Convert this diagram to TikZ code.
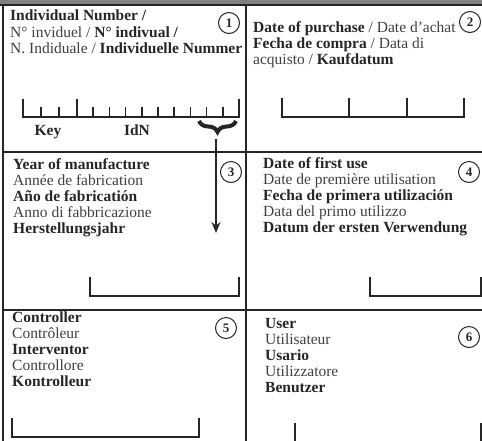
\documentclass[tikz,border=0pt]{standalone}
\usepackage{fontspec}
\setmainfont{Liberation Serif}
\usetikzlibrary{arrows.meta,decorations.pathreplacing}
\def\linesep{16}
\def\bt#1{{\bfseries\color{black!85}#1}}

\begin{document}
\begin{tikzpicture}[x=1pt,y=-1pt,every node/.append style={inner sep=0pt}]
    \tikzstyle{frame}=[draw=black!85,line width=2.6pt]
    \tikzstyle{field}=[draw=black!85,line width=2.2pt]
    \tikzstyle{tick}=[draw=black!85,line width=1.6pt]
    \tikzstyle{entry}=[anchor=base west,font=\fontsize{15.5}{16}\selectfont,text=black!75]
    \tikzstyle{label}=[anchor=base,font=\bfseries\fontsize{15.5}{16}\selectfont,text=black!85]
    \tikzstyle{number}=[circle,draw=black!85,line width=1pt,minimum size=21pt,font=\bfseries\fontsize{13}{13}\selectfont,text=black!85]

    \useasboundingbox (0,0) rectangle (482,440);

    % Draw the frame
    \fill[black!50] (0,0) rectangle (482,4);
    \draw[frame] (0,5) -- (482,5);
    \draw[frame] (3,5) -- (3,441);
    \draw[frame] (246,5) -- (246,441);
    \draw[frame] (3,152) -- (482,152);
    \draw[frame] (3,310) -- (482,310);

    % Draw the numbers of the fields
    \foreach \name / \x / \y in {1/229/23, 2/470/22, 3/231/172, 4/469/172, 5/226/328, 6/469/337}
        \node[number] (N-\name) at (\x,\y) {\name};

    % Field 1
    \node[entry] (T1-1) at (10,20) {\bt{Individual Number /}};
    \node[entry] (T1-2) at (10,37) {N° inviduel / \bt{N° indivual /}};
    \node[entry] (T1-3) at (10,53) {N. Indiduale / \bt{Individuelle Nummer}};

    % Field 2
    \node[entry] (T2-1) at (253,32) {\bt{Date of purchase} / Date d’achat};
    \node[entry] (T2-2) at (253,48) {\bt{Fecha de compra} / Data di};
    \node[entry] (T2-3) at (253,64) {acquisto / \bt{Kaufdatum}};

    % Fields 3 to 6
    \foreach \txt [count=\i] in {\bt{Year of manufacture}, Année de fabrication, \bt{Año de fabricatión}, Anno di fabbricazione, \bt{Herstellungsjahr}}
        \node[entry] (T3-\i) at (13,{169+\linesep*(\i-1)}) {\txt};
    \foreach \txt [count=\i] in {\bt{Date of first use}, Date de première utilisation, \bt{Fecha de primera utilización}, Data del primo utilizzo, \bt{Datum der ersten Verwendung}}
        \node[entry] (T4-\i) at (263,{168+\linesep*(\i-1)}) {\txt};
    \foreach \txt [count=\i] in {\bt{Controller}, Contrôleur, \bt{Interventor}, Controllore, \bt{Kontrolleur}}
        \node[entry] (T5-\i) at (12,{322+\linesep*(\i-1)}) {\txt};
    \foreach \txt [count=\i] in {\bt{User}, Utilisateur, \bt{Usario}, Utilizzatore, \bt{Benutzer}}
        \node[entry] (T6-\i) at (265,{328+\linesep*(\i-1)}) {\txt};

    % Draw the ruler of the individual number
    \draw[field] (23,99) -- (23,117) -- (239,117) -- (239,99);
    \draw[field] (77,117) -- (77,99);
    \foreach \x in {41,59}
        \draw[tick] (\x,117) -- (\x,107);
    \foreach \k in {1,...,9}
        \draw[tick] ({77+16.2*\k},117) -- ({77+16.2*\k},107);
    \node[label] (key) at (48,135) {Key};
    \node[label] (idn) at (137,135) {IdN};

    % The last digits give the year
    \draw[decorate,decoration={brace,mirror,amplitude=11pt,aspect=0.5},line width=4pt,draw=black!85] (199,121) -- (236,121);
    \coordinate (digits) at (216,139);
    \coordinate (year) at (216,233);
    \draw[-{Stealth[length=11pt,width=9pt]},line width=2pt,draw=black!85] (digits) -- (year);

    % Draw the boxes to fill in
    \draw[field] (282,98) -- (282,117) -- (464,117) -- (464,98);
    \foreach \x in {349,407}
        \draw[field] (\x,117) -- (\x,98);
    \foreach \l / \r / \b in {90/239/296, 370/481/296, 12/199/437}
        \draw[field] (\l,\b-19) -- (\l,\b) -- (\r,\b) -- (\r,\b-19);
    \foreach \x in {295,481}
        \draw[field] (\x,423) -- (\x,441);
\end{tikzpicture}
\end{document}
